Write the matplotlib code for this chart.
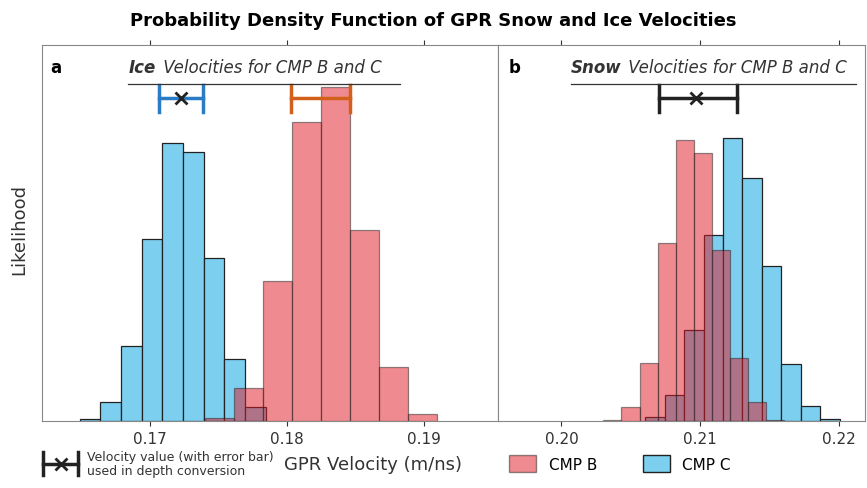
import matplotlib.pyplot as plt
import numpy as np
from matplotlib.patches import Patch

# ice (panel a)
ice_c_start, ice_c_width = 0.16489, 0.001509
ice_c_heights = [5, 57, 224, 545, 835, 807, 489, 185, 42]
ice_b_start, ice_b_width = 0.17404, 0.00212
ice_b_heights = [10, 99, 420, 899, 1004, 574, 162, 20]
ice_c_err = (0.17227, 0.17068, 0.17390)   # value, low, high
ice_b_err = (0.18034, 0.18460)

# snow (panel b)
snow_b_start, snow_b_width = 0.20302, 0.001304
snow_b_heights = [2, 42, 174, 534, 844, 804, 514, 189, 57, 2]
snow_c_start, snow_c_width = 0.20604, 0.001401
snow_c_heights = [12, 77, 272, 559, 850, 729, 465, 172, 45, 5]
snow_err = (0.20969, 0.20702, 0.21262)

red = '#e11923'
blue = '#7dcff0'
ymax = 1129
err_y = 969

fig = plt.figure(figsize=(8.67, 4.89), dpi=100)
ax1 = fig.add_axes([0.048, 0.137, 0.526, 0.769])
ax2 = fig.add_axes([0.574, 0.137, 0.424, 0.769])


def hist_bars(ax, start, width, heights, color, alpha):
    left = start + width * np.arange(len(heights))
    ax.bar(left, heights, width=width, align='edge', color=color, alpha=alpha,
           edgecolor='#222222', linewidth=0.9)


hist_bars(ax1, ice_c_start, ice_c_width, ice_c_heights, blue, 1.0)
hist_bars(ax1, ice_b_start, ice_b_width, ice_b_heights, red, 0.5)
hist_bars(ax2, snow_c_start, snow_c_width, snow_c_heights, blue, 1.0)
hist_bars(ax2, snow_b_start, snow_b_width, snow_b_heights, red, 0.5)

# error bars
def err(ax, lo, hi, color, mid=None):
    ax.plot([lo, hi], [err_y, err_y], color=color, lw=2.5)
    for x in (lo, hi):
        ax.plot([x, x], [err_y - 40, err_y + 40], color=color, lw=2.5)
    if mid is not None:
        ax.plot(mid, err_y, marker='x', color='#222222', ms=9, mew=2)

err(ax1, ice_c_err[1], ice_c_err[2], '#2a7cc7', ice_c_err[0])
err(ax1, ice_b_err[0], ice_b_err[1], '#d2601a')
err(ax2, snow_err[1], snow_err[2], '#222222', snow_err[0])

ax1.set_xlim(0.1621, 0.1954)
ax2.set_xlim(0.1954, 0.2219)
for ax in (ax1, ax2):
    ax.set_ylim(0, ymax)
    ax.set_yticks([])
    ax.tick_params(axis='x', top=True, direction='out', labelsize=11, colors='#333333')
    for s in ax.spines.values():
        s.set_color('#888888')
ax1.set_xticks([0.17, 0.18, 0.19])
ax1.set_xticklabels(['0.17', '0.18', '0.19'])
ax2.set_xticks([0.20, 0.21, 0.22])
ax2.set_xticklabels(['0.20', '0.21', '0.22'])

# panel labels and titles
ax1.text(0.02, 0.965, 'a', transform=ax1.transAxes, fontsize=12, fontweight='bold', va='top')
ax2.text(0.03, 0.965, 'b', transform=ax2.transAxes, fontsize=12, fontweight='bold', va='top')
ax1.text(0.19, 0.965, 'Ice', transform=ax1.transAxes, fontsize=12, fontweight='bold',
         style='italic', va='top', color='#333333')
ax1.text(0.255, 0.965, ' Velocities for CMP B and C', transform=ax1.transAxes, fontsize=12,
         style='italic', va='top', color='#333333')
ax1.plot([0.19, 0.785], [0.895, 0.895], transform=ax1.transAxes, color='#333333', lw=0.9)
ax2.text(0.2, 0.965, 'Snow', transform=ax2.transAxes, fontsize=12, fontweight='bold',
         style='italic', va='top', color='#333333')
ax2.text(0.34, 0.965, ' Velocities for CMP B and C', transform=ax2.transAxes, fontsize=12,
         style='italic', va='top', color='#333333')
ax2.plot([0.2, 0.975], [0.895, 0.895], transform=ax2.transAxes, color='#333333', lw=0.9)

fig.text(0.5, 0.975, 'Probability Density Function of GPR Snow and Ice Velocities',
         ha='center', va='top', fontsize=13, fontweight='bold')
fig.text(0.022, 0.53, 'Likelihood', rotation=90, ha='center', va='center', fontsize=13, color='#333333')
fig.text(0.43, 0.05, 'GPR Velocity (m/ns)', ha='center', va='center', fontsize=13, color='#333333')

# bottom legends
fig.text(0.1, 0.05, 'Velocity value (with error bar)\nused in depth conversion',
         ha='left', va='center', fontsize=9, color='#333333', linespacing=1.1)
lg = fig.add_axes([0.045, 0.01, 0.05, 0.08])
lg.axis('off'); lg.set_xlim(0, 1); lg.set_ylim(0, 1)
lg.plot([0.1, 0.9], [0.5, 0.5], color='#222222', lw=2.5)
lg.plot([0.1, 0.1], [0.2, 0.8], color='#222222', lw=2.5)
lg.plot([0.9, 0.9], [0.2, 0.8], color='#222222', lw=2.5)
lg.plot(0.5, 0.5, marker='x', color='#222222', ms=9, mew=2)

fig.legend(handles=[Patch(facecolor=red, alpha=0.5, edgecolor='#222222', label='CMP B'),
                    Patch(facecolor=blue, edgecolor='#222222', label='CMP C')],
           loc='center', bbox_to_anchor=(0.715, 0.05), ncol=2, frameon=False,
           fontsize=11, handlelength=1.8, handleheight=1.4, columnspacing=3)

fig.savefig('out.png', dpi=100)
